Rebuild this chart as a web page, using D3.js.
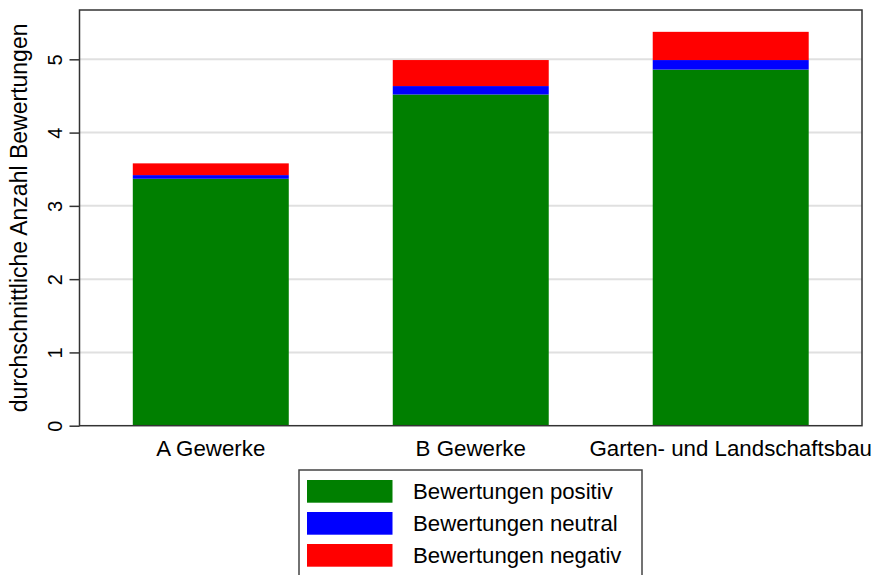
<!DOCTYPE html>
<html>
<head>
<meta charset="utf-8">
<script src="https://cdn.jsdelivr.net/npm/d3@7"></script>
<style>
  body { margin: 0; background: #fff; }
  svg { display: block; font-family: "Liberation Sans", Arial, sans-serif; }
</style>
</head>
<body>
<div id="chart"></div>
<script>
// data
var categories = ["A Gewerke", "B Gewerke", "Garten- und Landschaftsbau"];
var positiv = [3.37, 4.52, 4.86];
var neutral = [0.05, 0.115, 0.13];
var negativ = [0.16, 0.355, 0.385];
var seriesNames = ["Bewertungen positiv", "Bewertungen neutral", "Bewertungen negativ"];
var seriesColors = ["#007f00", "#0000ff", "#ff0000"];
var yTicks = [0, 1, 2, 3, 4, 5];

var width = 872, height = 575;
// plot box (note: "top" is taken by window.top)
var plotLeft = 79.5, plotRight = 862, plotTop = 10, plotBottom = 425.7;

var svg = d3.select("#chart").append("svg")
  .attr("width", width)
  .attr("height", height);

var x = d3.scaleBand()
  .domain(categories)
  .range([plotLeft, plotRight])
  .paddingInner(0.4)
  .paddingOuter(0.205);

var y = d3.scaleLinear()
  .domain([0, 5.673])
  .range([plotBottom, plotTop]);

// gridlines
svg.append("g").selectAll("line")
  .data(yTicks.filter(function(d) { return d > 0; }))
  .enter().append("line")
    .attr("x1", plotLeft).attr("x2", plotRight)
    .attr("y1", function(d) { return y(d); })
    .attr("y2", function(d) { return y(d); })
    .attr("stroke", "#e0e0e0")
    .attr("stroke-width", 2);

// stacked bars
var rows = categories.map(function(c, i) {
  return { cat: c, positiv: positiv[i], neutral: neutral[i], negativ: negativ[i] };
});
var stack = d3.stack().keys(["positiv", "neutral", "negativ"])(rows);

svg.append("g").selectAll("g")
  .data(stack)
  .enter().append("g")
    .attr("fill", function(d, i) { return seriesColors[i]; })
  .selectAll("rect")
  .data(function(d) { return d; })
  .enter().append("rect")
    .attr("x", function(d) { return x(d.data.cat); })
    .attr("width", x.bandwidth())
    .attr("y", function(d) { return y(d[1]); })
    .attr("height", function(d) { return y(d[0]) - y(d[1]); });

// frame
svg.append("rect")
  .attr("x", plotLeft).attr("y", plotTop)
  .attr("width", plotRight - plotLeft).attr("height", plotBottom - plotTop)
  .attr("fill", "none")
  .attr("stroke", "#333")
  .attr("stroke-width", 1.5);

// y axis
var yAxis = svg.append("g")
  .attr("transform", "translate(" + plotLeft + ",0)")
  .call(d3.axisLeft(y).tickValues(yTicks).tickSize(10).tickPadding(6).tickFormat(d3.format("d")));
yAxis.select(".domain").remove();
yAxis.selectAll(".tick line").attr("stroke", "#333").attr("stroke-width", 1.5);
yAxis.selectAll(".tick text")
  .attr("x", null).attr("dy", null)
  .attr("transform", "translate(-18,0) rotate(-90)")
  .attr("text-anchor", "middle")
  .attr("font-size", 20)
  .attr("fill", "#000");

// x labels
svg.append("g").selectAll("text")
  .data(categories)
  .enter().append("text")
    .attr("x", function(d) { return x(d) + x.bandwidth() / 2; })
    .attr("y", 455.5)
    .attr("text-anchor", "middle")
    .attr("font-size", 22.3)
    .text(function(d) { return d; });

// y title
svg.append("text")
  .attr("transform", "translate(26.5," + ((plotTop + plotBottom) / 2) + ") rotate(-90)")
  .attr("text-anchor", "middle")
  .attr("font-size", 23)
  .text("durchschnittliche Anzahl Bewertungen");

// legend
var legend = svg.append("g");
legend.append("rect")
  .attr("x", 299).attr("y", 470)
  .attr("width", 343).attr("height", 120)
  .attr("fill", "#fff")
  .attr("stroke", "#444")
  .attr("stroke-width", 1.5);

var item = legend.selectAll("g.item")
  .data(seriesNames)
  .enter().append("g")
    .attr("class", "item")
    .attr("transform", function(d, i) { return "translate(307," + (480 + i * 32) + ")"; });
item.append("rect")
  .attr("width", 85.5).attr("height", 22.7)
  .attr("fill", function(d, i) { return seriesColors[i]; });
item.append("text")
  .attr("x", 106)
  .attr("y", 19)
  .attr("font-size", 22.2)
  .text(function(d) { return d; });
</script>
</body>
</html>
